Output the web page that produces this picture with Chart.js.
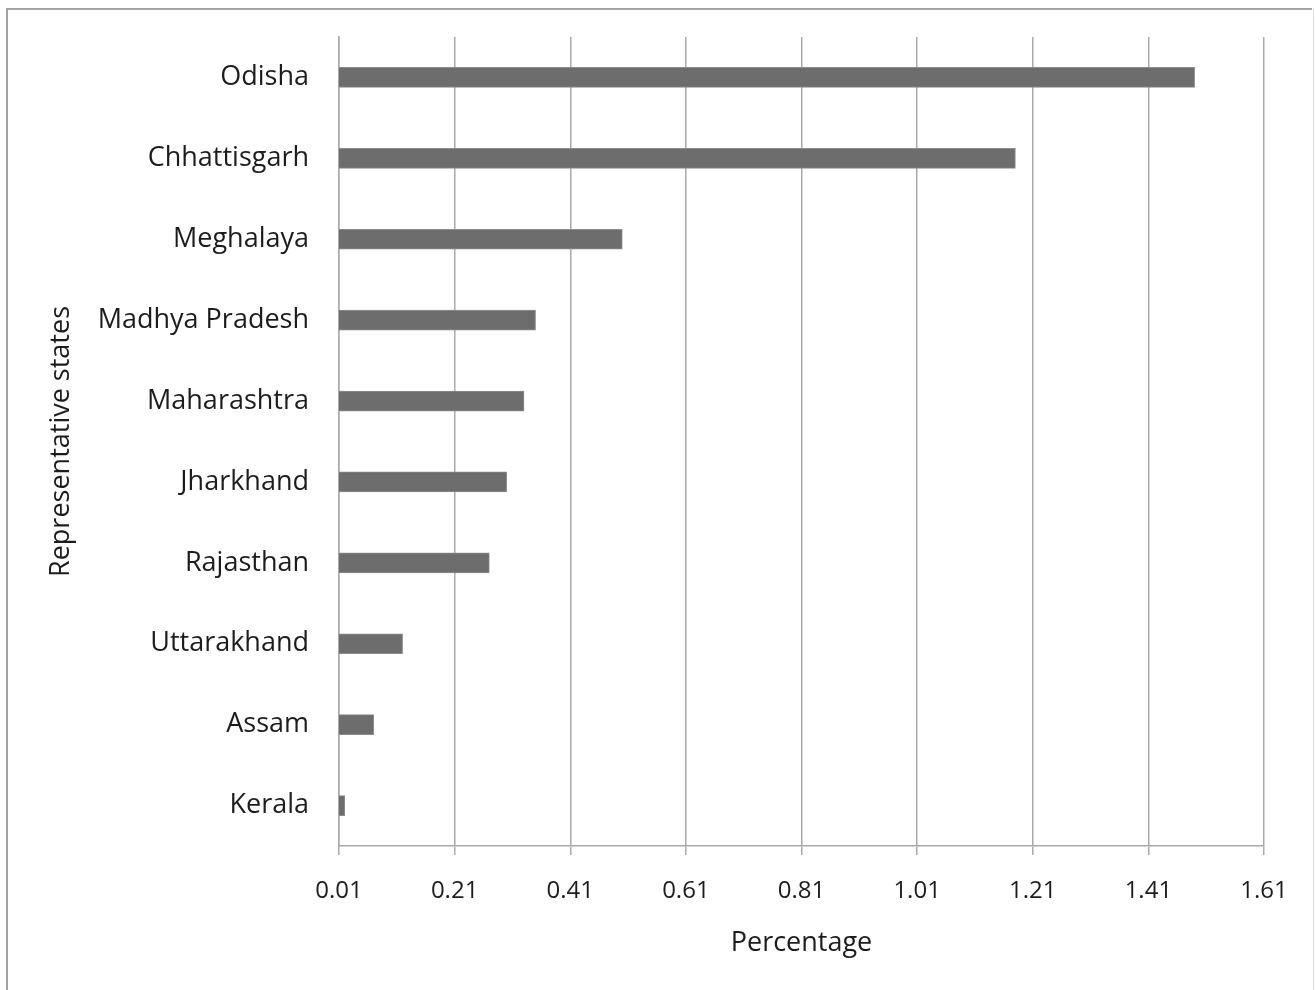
<!DOCTYPE html>
<html>
<head>
<meta charset="utf-8">
<script src="https://cdn.jsdelivr.net/npm/chart.js@4.4.1/dist/chart.umd.min.js"></script>
<style>
  html, body { margin: 0; padding: 0; background: #ffffff; }
  #wrap { width: 1315px; height: 990px; position: relative; }
</style>
</head>
<body>
<div id="wrap"><canvas id="chart" width="1315" height="990"></canvas></div>
<script>
// States, top to bottom
const states = ['Odisha', 'Chhattisgarh', 'Meghalaya', 'Madhya Pradesh', 'Maharashtra',
                'Jharkhand', 'Rajasthan', 'Uttarakhand', 'Assam', 'Kerala'];
// Percentage per state
const percentages = [1.49, 1.18, 0.50, 0.35, 0.33, 0.30, 0.27, 0.12, 0.07, 0.02];
// Percentage axis ticks
const percentTicks = [0.01, 0.21, 0.41, 0.61, 0.81, 1.01, 1.21, 1.41, 1.61];

const FONT = "'Open Sans', 'DejaVu Sans', sans-serif";
const TEXT = '#1c1c1c';
const GRID = '#a9a9a9';

// Grey outer frame around the chart
const framePlugin = {
  id: 'frame',
  beforeDraw(chart) {
    const ctx = chart.ctx;
    ctx.save();
    ctx.fillStyle = '#ffffff';
    ctx.fillRect(0, 0, chart.width, chart.height);
    ctx.lineWidth = 2;
    ctx.strokeStyle = '#a4a4a4';
    ctx.beginPath();
    ctx.moveTo(7, chart.height + 5);
    ctx.lineTo(7, 9);
    ctx.lineTo(1312, 9);
    ctx.stroke();
    ctx.strokeStyle = '#dcdcdc';
    ctx.lineWidth = 1;
    ctx.beginPath();
    ctx.moveTo(1313.5, 9);
    ctx.lineTo(1313.5, chart.height + 5);
    ctx.stroke();
    ctx.restore();
  }
};

new Chart(document.getElementById('chart'), {
  type: 'bar',
  data: {
    labels: states,
    datasets: [{
      data: percentages,
      backgroundColor: '#6d6d6d',
      borderColor: '#8c8c8c',
      borderWidth: 1,
      borderSkipped: 'start',
      barThickness: 20
    }]
  },
  options: {
    indexAxis: 'y',
    responsive: false,
    animation: false,
    devicePixelRatio: 1,
    layout: { padding: { left: 36, right: 51, top: 37, bottom: 24 } },
    plugins: {
      legend: { display: false },
      tooltip: { enabled: false }
    },
    scales: {
      x: {
        type: 'linear',
        min: percentTicks[0],
        max: percentTicks[percentTicks.length - 1],
        afterBuildTicks(scale) {
          scale.ticks = percentTicks.map(v => ({ value: v }));
        },
        afterFit(scale) {
          scale.height = 120;
          scale.paddingLeft = 0;
          scale.paddingRight = 0;
        },
        grid: {
          display: true,
          color: GRID,
          lineWidth: 1.5,
          drawTicks: true,
          tickLength: 9,
          tickColor: GRID
        },
        border: { display: true, color: GRID, width: 1.5 },
        ticks: {
          padding: 22,
          color: TEXT,
          font: { family: FONT, size: 24 },
          maxRotation: 0,
          callback: v => Number(v).toFixed(2)
        },
        title: {
          display: true,
          text: 'Percentage',
          color: TEXT,
          font: { family: FONT, size: 27 },
          padding: { top: 0, bottom: 6 }
        }
      },
      y: {
        type: 'category',
        offset: true,
        afterFit(scale) {
          scale.width = 339 - 36;
          scale.paddingTop = 0;
          scale.paddingBottom = 0;
        },
        grid: { display: false, drawTicks: false },
        border: { display: true, color: GRID, width: 1.5 },
        ticks: {
          padding: 30,
          color: TEXT,
          font: { family: FONT, size: 27 }
        },
        title: {
          display: true,
          text: 'Representative states',
          color: TEXT,
          font: { family: FONT, size: 27 },
          padding: { top: 9, bottom: 0 }
        }
      }
    }
  },
  plugins: [framePlugin]
});
</script>
</body>
</html>
